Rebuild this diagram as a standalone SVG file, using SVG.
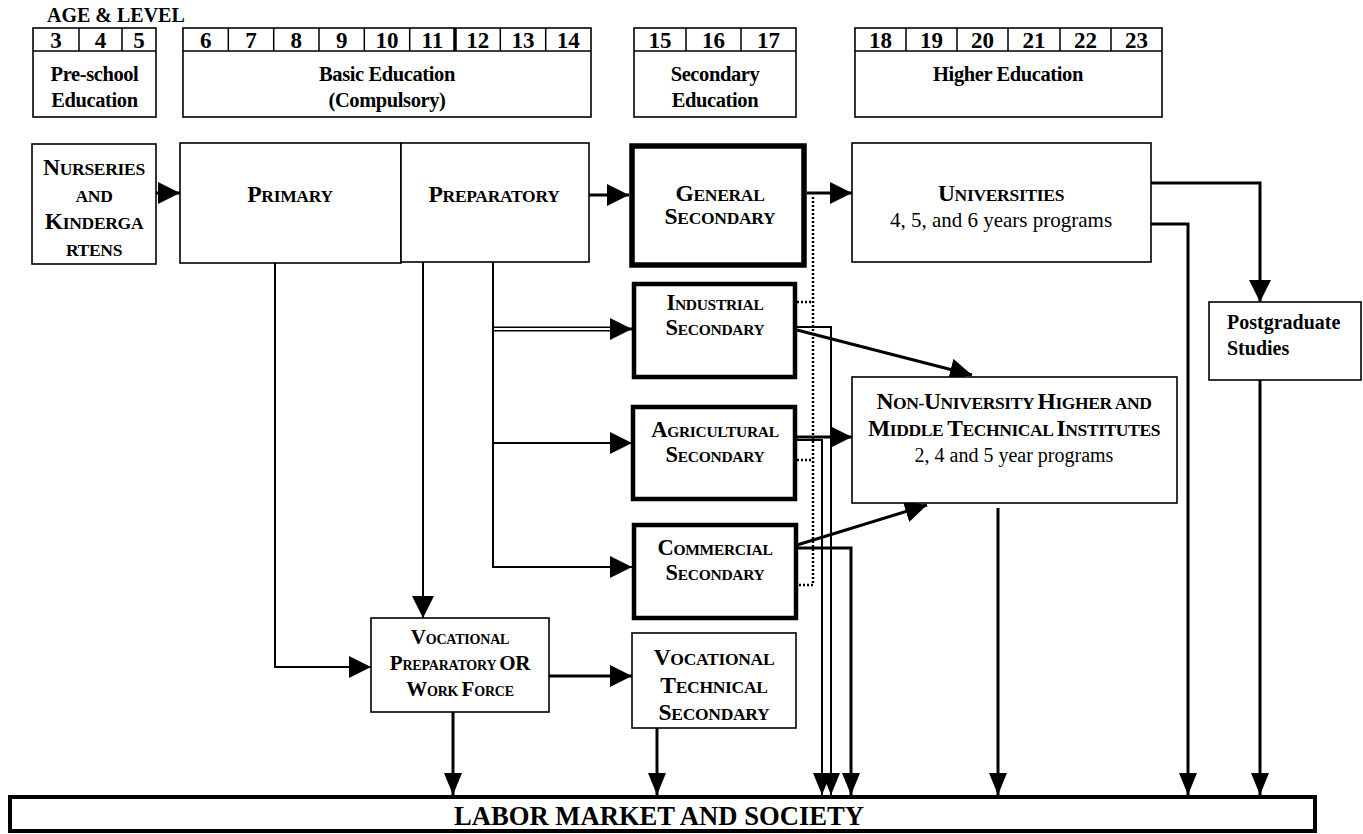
<svg xmlns="http://www.w3.org/2000/svg" width="1363" height="834" viewBox="0 0 1363 834">
<defs>
<marker id="ah" markerUnits="userSpaceOnUse" markerWidth="24" markerHeight="24" refX="22" refY="11" orient="auto"><path d="M0,0 L22,11 L0,22 z" fill="#000"/></marker>
<marker id="ahd" markerUnits="userSpaceOnUse" markerWidth="24" markerHeight="20" refX="22" refY="9" orient="auto"><path d="M0,0 L22,9 L0,18 z" fill="#000"/></marker>
</defs>
<style>
text{font-family:"Liberation Serif","Times New Roman",serif;fill:#000;font-weight:bold}
.hn{font-size:23px;text-anchor:middle}
.hl{font-size:20.5px;text-anchor:middle;letter-spacing:-0.4px}
.box{fill:#fff;stroke:#000;stroke-width:1.6}
.thick{fill:#fff;stroke:#000;stroke-width:5.5}
.mid{fill:#fff;stroke:#000;stroke-width:4.5}
.hline{fill:none;stroke:#000;stroke-width:1.5}
.n{font-size:17.5px;text-anchor:middle;letter-spacing:-0.3px}
.n .c{font-size:23.5px}
.s{font-size:15.5px;text-anchor:middle;letter-spacing:-0.3px}
.s .c{font-size:22.5px}
.v{font-size:14px;text-anchor:middle;letter-spacing:-0.2px}
.v .c{font-size:21px}
.nu{font-size:17.5px;text-anchor:middle;letter-spacing:-0.4px}
.nu .c{font-size:23.5px}
.reg{font-weight:normal;text-anchor:middle}
.ln{fill:none;stroke:#000;stroke-width:3}
.tl{fill:none;stroke:#000;stroke-width:2}
.dot{fill:none;stroke:#000;stroke-width:2.5;stroke-dasharray:2 2}
</style>
<rect width="1363" height="834" fill="#fff"/>

<g id="header">
<text x="47" y="22" font-size="20">AGE &amp; LEVEL</text>
<g id="hdr-preschool">
<rect class="box" x="33" y="28" width="123" height="89"/>
<path class="hline" d="M33,51 H156 M79,28 V51 M122,28 V51"/>
<text class="hn" x="56" y="48">3</text><text class="hn" x="100.5" y="48">4</text><text class="hn" x="139" y="48">5</text>
<text class="hl" x="94.5" y="81">Pre-school</text>
<text class="hl" x="94.5" y="107">Education</text>
</g>
<g id="hdr-basic">
<rect class="box" x="183" y="28" width="408" height="89"/>
<path class="hline" d="M183,51 H591 M228.3,28 V51 M273.7,28 V51 M319,28 V51 M364.3,28 V51 M409.7,28 V51 M500.3,28 V51 M545.7,28 V51"/>
<path d="M455,28 V51" stroke="#000" stroke-width="3.5"/>
<text class="hn" x="205.7" y="48">6</text><text class="hn" x="251" y="48">7</text><text class="hn" x="296.3" y="48">8</text><text class="hn" x="341.7" y="48">9</text><text class="hn" x="387" y="48">10</text><text class="hn" x="432.3" y="48">11</text><text class="hn" x="477.7" y="48">12</text><text class="hn" x="523" y="48">13</text><text class="hn" x="568.3" y="48">14</text>
<text class="hl" x="387" y="81">Basic Education</text>
<text class="hl" x="387" y="107">(Compulsory)</text>
</g>
<g id="hdr-secondary">
<rect class="box" x="634" y="28" width="162" height="89"/>
<path class="hline" d="M634,51 H796 M686,28 V51 M741,28 V51"/>
<text class="hn" x="660" y="48">15</text><text class="hn" x="713.5" y="48">16</text><text class="hn" x="768.5" y="48">17</text>
<text class="hl" x="715" y="81">Secondary</text>
<text class="hl" x="715" y="107">Education</text>
</g>
<g id="hdr-higher">
<rect class="box" x="855" y="28" width="307" height="89"/>
<path class="hline" d="M855,51 H1162 M906,28 V51 M957,28 V51 M1008,28 V51 M1060,28 V51 M1111,28 V51"/>
<text class="hn" x="880.5" y="48">18</text><text class="hn" x="931.5" y="48">19</text><text class="hn" x="982.5" y="48">20</text><text class="hn" x="1034" y="48">21</text><text class="hn" x="1085.5" y="48">22</text><text class="hn" x="1136.5" y="48">23</text>
<text class="hl" x="1008" y="81">Higher Education</text>
</g>
</g>

<g id="connectors">
<path class="ln" d="M156,193 H180" marker-end="url(#ah)"/>
<path class="ln" d="M589,195 H629" marker-end="url(#ah)"/>
<path class="ln" d="M807,193 H852" marker-end="url(#ah)"/>
<path class="ln" d="M1151,183 H1260 V302" marker-end="url(#ah)"/>
<path class="ln" d="M1151,224 H1188 V795" marker-end="url(#ahd)"/>
<path class="ln" d="M1260,380 V795" marker-end="url(#ahd)"/>
<path class="ln" d="M998,508 V795" marker-end="url(#ahd)"/>
<path class="tl" d="M275,263 V667 H371" marker-end="url(#ah)"/>
<path class="tl" d="M423,262 V618" marker-end="url(#ah)"/>
<path class="tl" d="M493,262 V567 H632" marker-end="url(#ah)"/>
<path class="tl" d="M493,443 H632" marker-end="url(#ah)"/>
<path d="M493,327.2 H612 M493,330.8 H612" stroke="#000" stroke-width="1.4" fill="none"/>
<path class="ln" d="M610,329 H632" marker-end="url(#ah)"/>
<path class="ln" d="M549,676 H632" marker-end="url(#ah)"/>
<path class="ln" d="M453,712 V795" marker-end="url(#ahd)"/>
<path class="ln" d="M657,728 V795" marker-end="url(#ahd)"/>
<path class="ln" d="M797,330 L972,375" marker-end="url(#ah)"/>
<path class="tl" d="M797,327 H831 V795" marker-end="url(#ahd)"/>
<path class="ln" d="M797,437 H852" marker-end="url(#ah)"/>
<path class="tl" d="M797,440 H822 V795" marker-end="url(#ahd)"/>
<path class="ln" d="M797,545 L927,505" marker-end="url(#ah)"/>
<path class="ln" d="M797,548 H851 V795" marker-end="url(#ahd)"/>
<path class="dot" d="M813,197 V585 H797 M797,302 H813 M797,460 H813"/>
</g>

<g id="nurseries">
<rect class="box" x="32" y="144" width="124" height="120"/>
<text class="n" x="94" y="175"><tspan class="c">N</tspan>URSERIES</text>
<text class="n" x="94" y="202">AND</text>
<text class="n" x="94" y="229"><tspan class="c">K</tspan>INDERGA</text>
<text class="n" x="94" y="256">RTENS</text>
</g>
<g id="primary">
<rect class="box" x="180" y="143" width="221" height="120"/>
<text class="n" x="290" y="202"><tspan class="c">P</tspan>RIMARY</text>
</g>
<g id="preparatory">
<rect class="box" x="401" y="143" width="188" height="119"/>
<text class="n" x="494" y="202"><tspan class="c">P</tspan>REPARATORY</text>
</g>
<g id="general-secondary">
<rect class="thick" x="632" y="146" width="172" height="119"/>
<text class="n" x="720" y="201"><tspan class="c">G</tspan>ENERAL</text>
<text class="n" x="720" y="224"><tspan class="c">S</tspan>ECONDARY</text>
</g>
<g id="universities">
<rect class="box" x="852" y="143" width="299" height="119"/>
<text class="n" x="1001" y="201"><tspan class="c">U</tspan>NIVERSITIES</text>
<text class="reg" x="1001" y="227" font-size="21">4, 5, and 6 years programs</text>
</g>
<g id="postgraduate">
<rect class="box" x="1209" y="302" width="152" height="78"/>
<text x="1227" y="329" font-size="20">Postgraduate</text>
<text x="1227" y="355" font-size="20">Studies</text>
</g>
<g id="industrial-secondary">
<rect class="mid" x="634" y="284" width="161" height="93"/>
<text class="s" x="715" y="310"><tspan class="c">I</tspan>NDUSTRIAL</text>
<text class="s" x="715" y="335"><tspan class="c">S</tspan>ECONDARY</text>
</g>
<g id="agricultural-secondary">
<rect class="mid" x="633" y="407" width="162" height="92"/>
<text class="s" x="715" y="437"><tspan class="c">A</tspan>GRICULTURAL</text>
<text class="s" x="715" y="462"><tspan class="c">S</tspan>ECONDARY</text>
</g>
<g id="commercial-secondary">
<rect class="mid" x="634" y="525" width="162" height="93"/>
<text class="s" x="715" y="555"><tspan class="c">C</tspan>OMMERCIAL</text>
<text class="s" x="715" y="580"><tspan class="c">S</tspan>ECONDARY</text>
</g>
<g id="non-university">
<rect class="box" x="852" y="377" width="325" height="126"/>
<text class="nu" x="1014" y="409"><tspan class="c">N</tspan>ON-<tspan class="c">U</tspan>NIVERSITY <tspan class="c">H</tspan>IGHER AND</text>
<text class="nu" x="1014" y="436"><tspan class="c">M</tspan>IDDLE <tspan class="c">T</tspan>ECHNICAL <tspan class="c">I</tspan>NSTITUTES</text>
<text class="reg" x="1014" y="462" font-size="20">2, 4 and 5 year programs</text>
</g>
<g id="vocational-preparatory">
<rect class="box" x="371" y="618" width="178" height="94"/>
<text class="v" x="460" y="644"><tspan class="c">V</tspan>OCATIONAL</text>
<text class="v" x="460" y="670"><tspan class="c">P</tspan>REPARATORY <tspan class="c">OR</tspan></text>
<text class="v" x="460" y="696"><tspan class="c">W</tspan>ORK <tspan class="c">F</tspan>ORCE</text>
</g>
<g id="vocational-technical">
<rect class="box" x="632" y="633" width="164" height="95"/>
<text class="n" x="714" y="665"><tspan class="c">V</tspan>OCATIONAL</text>
<text class="n" x="714" y="693"><tspan class="c">T</tspan>ECHNICAL</text>
<text class="n" x="714" y="720"><tspan class="c">S</tspan>ECONDARY</text>
</g>
<g id="labor-market">
<rect x="10" y="797" width="1305" height="34" fill="#fff" stroke="#000" stroke-width="4"/>
<text x="659" y="825" font-size="27" text-anchor="middle" textLength="410" lengthAdjust="spacingAndGlyphs">LABOR MARKET AND SOCIETY</text>
</g>
</svg>
